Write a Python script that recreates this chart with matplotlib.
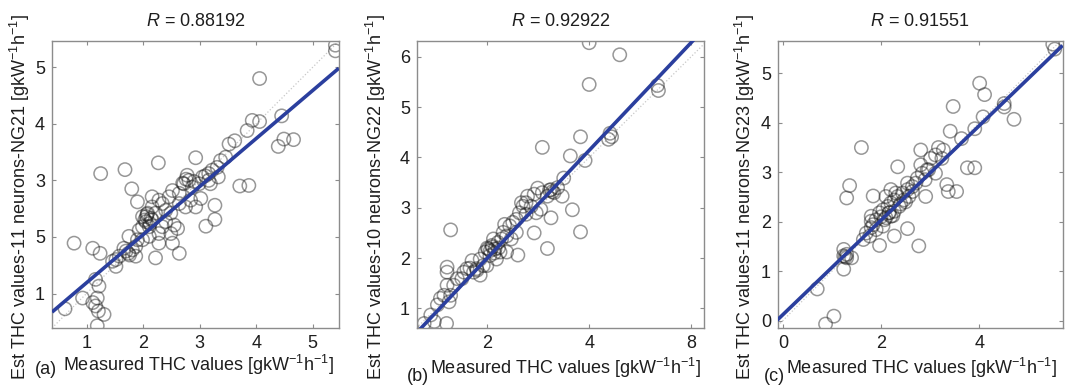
import matplotlib
matplotlib.use("Agg")
import matplotlib.pyplot as plt
import numpy as np

plt.rcParams['font.family'] = ['Liberation Sans', 'DejaVu Sans']
plt.rcParams['mathtext.fontset'] = 'custom'
plt.rcParams['mathtext.rm'] = 'Liberation Sans'
plt.rcParams['mathtext.it'] = 'Liberation Sans:italic'

# ---------------- data ----------------
# Panel (a): NG21, 11 neurons
a_meas = [5.40, 5.40, 4.06, 4.45, 3.93, 4.06, 4.39, 4.49, 4.66, 3.84, 3.62, 3.52,
          3.71, 3.87, 2.93, 2.27, 1.25, 1.68, 1.80, 1.90, 2.16, 0.78, 1.11, 1.24,
          1.52, 1.46, 2.22, 2.64, 3.11, 3.27, 3.27, 2.93, 0.62, 0.93, 1.16, 1.22,
          1.19, 1.16, 1.21, 1.31, 1.19, 1.11, 1.66, 1.74, 1.81, 1.87, 1.90, 1.93,
          1.99, 2.05, 2.08, 2.11, 2.16, 2.22, 2.28, 2.34, 2.40, 2.49, 2.55, 2.61,
          2.49, 2.52, 2.28, 2.11, 1.99, 2.46, 2.34, 2.40, 2.64, 2.72, 2.81, 2.87,
          2.99, 3.05, 3.16, 3.22, 3.31, 3.37, 3.46, 3.33, 3.19, 3.02, 2.84, 2.75,
          2.64, 1.52, 1.58, 1.75, 1.87, 1.99, 2.06, 2.16, 2.28, 2.52, 2.78, 3.16,
          1.70, 1.76, 2.03, 2.07, 2.12, 2.14, 2.70, 2.76, 2.90, 3.10]
a_est = [5.39, 5.29, 4.80, 4.14, 4.06, 4.04, 3.60, 3.73, 3.72, 3.88, 3.70, 3.64,
         2.90, 2.91, 3.40, 3.31, 3.12, 3.19, 2.85, 2.62, 2.71, 1.89, 1.80, 1.71,
         1.48, 1.57, 1.63, 1.71, 2.19, 2.31, 2.56, 2.53, 0.73, 0.92, 1.25, 1.13,
         0.92, 0.78, 0.69, 0.63, 0.43, 0.84, 1.80, 1.71, 1.77, 1.66, 1.95, 2.12,
         2.36, 2.27, 2.42, 2.18, 2.30, 2.42, 2.06, 2.18, 2.27, 2.42, 2.21, 2.15,
         2.06, 1.89, 1.89, 2.01, 1.95, 2.71, 2.59, 2.47, 2.77, 2.94, 3.00, 2.88,
         2.94, 3.06, 3.12, 3.18, 3.23, 3.35, 3.41, 3.06, 2.94, 2.68, 2.65, 2.53,
         2.59, 1.60, 1.66, 2.01, 1.83, 2.18, 2.36, 2.53, 2.65, 2.82, 3.09, 3.00,
         1.75, 1.68, 2.30, 2.40, 2.24, 2.33, 2.95, 3.02, 2.98, 3.08]

# Panel (b): NG22, 10 neurons
b_meas = [4.00, 4.60, 4.00, 5.34, 5.36, 4.41, 4.38, 4.44, 3.83, 3.08, 3.63, 3.92,
          3.50, 3.25, 3.31, 3.38, 3.47, 3.67, 3.83, 3.18, 3.25, 2.92, 2.99, 2.79,
          2.67, 2.86, 2.96, 2.76, 3.05, 2.60, 1.28, 1.21, 1.21, 1.21, 1.15, 1.28,
          1.25, 0.76, 0.96, 1.20, 1.50, 1.70, 1.73, 1.79, 1.92, 1.86, 1.96, 2.02,
          2.09, 2.15, 2.21, 2.05, 2.18, 2.28, 2.31, 2.38, 2.44, 2.50, 2.57, 2.34,
          2.25, 2.38, 2.63, 2.57, 2.47, 2.12, 1.60, 1.41, 1.54, 1.34, 1.02, 1.08,
          0.89, 1.86, 1.99, 2.70, 2.76, 3.08, 3.18, 2.92,
          2.00, 2.06, 2.10, 2.14, 2.22, 3.28, 3.22, 1.80, 1.66]
b_est = [6.28, 6.04, 5.45, 5.43, 5.33, 4.48, 4.36, 4.41, 4.41, 4.20, 4.03, 3.94,
         3.59, 3.36, 3.30, 3.40, 3.23, 2.96, 2.52, 2.19, 2.80, 2.50, 3.39, 3.23,
         3.10, 3.03, 2.90, 2.87, 2.97, 2.06, 2.56, 1.82, 1.72, 1.46, 1.26, 1.26,
         1.13, 0.70, 0.74, 0.70, 1.59, 1.95, 1.72, 1.79, 1.85, 1.66, 2.12, 2.18,
         2.25, 2.18, 2.31, 2.05, 1.98, 2.38, 2.51, 2.44, 2.64, 2.71, 2.77, 2.67,
         2.12, 2.12, 2.90, 2.51, 2.38, 2.38, 1.79, 1.59, 1.72, 1.46, 1.07, 1.20,
         0.87, 1.98, 1.85, 3.03, 3.10, 3.30, 3.23, 3.27,
         2.20, 2.15, 2.22, 2.10, 2.20, 3.32, 3.35, 1.76, 1.80]

# Panel (c): NG23, 11 neurons
c_meas = [5.50, 5.54, 4.01, 4.11, 4.51, 4.51, 4.71, 3.47, 4.08, 3.91, 3.41, 3.64,
          3.76, 3.91, 1.60, 2.81, 3.17, 3.27, 3.11, 3.24, 3.01, 2.34, 2.81, 2.94,
          3.11, 3.34, 3.37, 3.54, 1.36, 1.30, 1.84, 2.20, 2.91, 1.80, 1.80, 2.27,
          2.54, 2.77, 1.97, 1.24, 1.30, 1.40, 1.24, 0.70, 1.04, 0.87, 1.64, 1.70,
          1.84, 1.90, 1.97, 2.04, 2.14, 2.20, 2.27, 2.34, 2.44, 2.54, 2.64, 2.71,
          2.07, 2.17, 2.27, 2.37, 2.47, 2.57, 1.90, 1.77, 2.04, 2.30, 2.64, 2.74,
          2.84, 2.97, 2.54, 1.80, 2.10, 2.20, 1.24, 1.30,
          2.00, 2.10, 2.16, 2.24, 2.40, 2.50, 1.27, 2.90]
c_est = [5.59, 5.49, 4.80, 4.57, 4.39, 4.32, 4.07, 4.33, 4.12, 3.88, 3.83, 3.68,
         3.09, 3.09, 3.50, 3.45, 3.50, 3.45, 3.35, 3.28, 3.28, 3.11, 3.15, 3.05,
         2.98, 2.75, 2.61, 2.61, 2.73, 2.48, 2.52, 2.65, 2.51, 2.01, 1.88, 1.71,
         1.86, 1.51, 1.52, 1.44, 1.27, 1.27, 1.04, 0.64, 0.09, -0.07, 1.64, 1.77,
         1.94, 2.04, 2.18, 2.24, 2.31, 2.38, 2.44, 2.51, 2.58, 2.65, 2.71, 2.78,
         2.04, 2.18, 2.21, 2.31, 2.44, 2.51, 1.84, 1.71, 1.91, 2.58, 2.61, 2.88,
         2.98, 3.05, 2.78, 2.11, 2.51, 2.11, 1.31, 1.34,
         2.10, 2.08, 2.18, 2.12, 2.36, 2.40, 1.29, 2.85]

r_values = ['0.88192', '0.92922', '0.91551']
panel_tags = ['(a)', '(b)', '(c)']
y_labels = ['Est THC values-11 neurons-NG21',
            'Est THC values-10 neurons-NG22',
            'Est THC values-11 neurons-NG23']
fit_slopes = [0.85, 1.07, 0.955]
fit_intercepts = [0.34, -0.14, 0.12]

a_xticks, a_xticklabels = [1, 2, 3, 4, 5], ['1', '2', '3', '4', '5']
a_yticks, a_yticklabels = [1, 2, 3, 4, 5], ['1', '5', '3', '4', '5']
b_xticks, b_xticklabels = [2, 4, 6], ['2', '4', '8']
b_yticks, b_yticklabels = [1, 2, 3, 4, 5, 6], ['1', '2', '3', '4', '5', '6']
c_xticks, c_xticklabels = [0, 2, 4], ['0', '2', '4']
c_yticks, c_yticklabels = [0, 1, 2, 3, 4, 5], ['0', '1', '2', '3', '4', '5']

# ---------------- layout ----------------
fig = plt.figure(figsize=(10.66, 3.85), dpi=100)
rects = [[0.0488, 0.148, 0.269, 0.745],
         [0.3912, 0.148, 0.269, 0.745],
         [0.7298, 0.148, 0.267, 0.745]]
xlims = [(0.39, 5.46), (0.62, 6.25), (-0.10, 5.70)]
ylims = [(0.39, 5.46), (0.61, 6.31), (-0.15, 5.65)]
xlab_pos = [(0.512, -0.129), (0.519, -0.139), (0.505, -0.139)]
ylab_x = [-0.111, -0.143, -0.116]
tag_pos = [(-0.02, -0.146), (0.003, -0.168), (-0.014, -0.168)]

panels = [
    (a_meas, a_est, a_xticks, a_xticklabels, a_yticks, a_yticklabels),
    (b_meas, b_est, b_xticks, b_xticklabels, b_yticks, b_yticklabels),
    (c_meas, c_est, c_xticks, c_xticklabels, c_yticks, c_yticklabels),
]

spine_col = '#8c8c8c'
text_col = '#1e1e1e'
unit = r'[gkW$^{-1}$h$^{-1}$]'

for i, (xm, ye, xt, xtl, yt, ytl) in enumerate(panels):
    ax = fig.add_axes(rects[i])
    ax.set_xlim(*xlims[i])
    ax.set_ylim(*ylims[i])
    lo = min(xlims[i][0], ylims[i][0])
    hi = max(xlims[i][1], ylims[i][1])
    xs = np.array([lo, hi])
    # identity line
    ax.plot(xs, xs, color='#c8c8c8', lw=0.9, ls=':', zorder=1)
    # data points
    ax.scatter(xm, ye, s=92, facecolors='none',
               edgecolors=(0.1, 0.1, 0.1, 0.45), linewidths=1.1, zorder=2)
    # fit line
    ax.plot(xs, fit_slopes[i] * xs + fit_intercepts[i], color='#2b3f9e',
            lw=2.6, zorder=3, solid_capstyle='butt')
    ax.set_xticks(xt)
    ax.set_xticklabels(xtl)
    ax.set_yticks(yt)
    ax.set_yticklabels(ytl)
    ax.tick_params(direction='in', length=3, width=0.8, color=spine_col,
                   top=True, right=True, labelsize=13, labelcolor=text_col,
                   pad=5)
    for sp in ax.spines.values():
        sp.set_color(spine_col)
        sp.set_linewidth(1.0)
    ax.set_title(r'$\mathit{R}$ = ' + r_values[i], fontsize=13, color=text_col,
                 pad=11)
    ax.set_xlabel('Measured THC values ' + unit, fontsize=13, color=text_col)
    ax.xaxis.set_label_coords(*xlab_pos[i])
    ax.xaxis.label.set_va('center')
    ax.set_ylabel(y_labels[i] + ' ' + unit, fontsize=13, color=text_col)
    ax.yaxis.set_label_coords(ylab_x[i], 0.456)
    ax.yaxis.label.set_va('center')
    ax.text(tag_pos[i][0], tag_pos[i][1], panel_tags[i], transform=ax.transAxes,
            fontsize=13, color=text_col, ha='center', va='center')

fig.savefig('out.png', dpi=100)
